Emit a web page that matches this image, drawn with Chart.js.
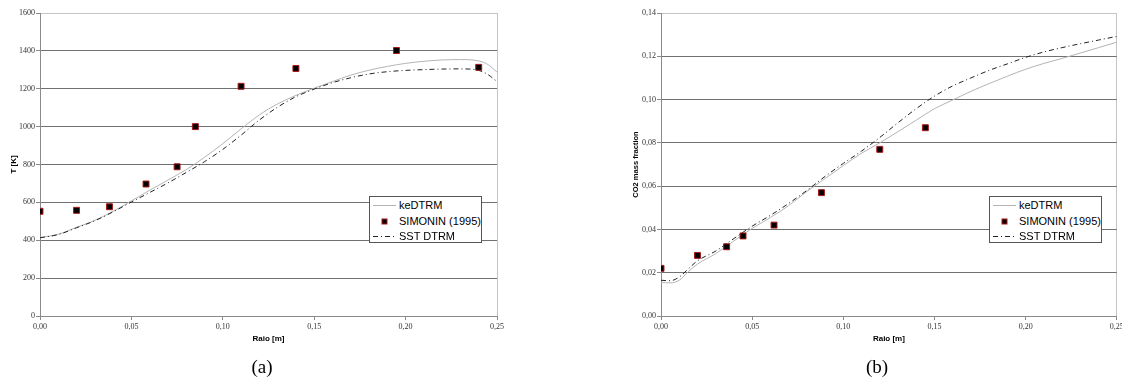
<!DOCTYPE html>
<html>
<head>
<meta charset="utf-8">
<script src="https://cdn.jsdelivr.net/npm/chart.js@4.4.1/dist/chart.umd.min.js"></script>
<style>
  body { margin: 0; background: #fff; width: 1122px; height: 381px; position: relative; overflow: hidden; }
  canvas { position: absolute; top: 0; }
  .legend { position: absolute; box-sizing: border-box; width: 113px; height: 47px; border: 1px solid #555; background: #fff;
            font: 11px "Liberation Sans", Arial, sans-serif; color: #000; }
  .legend .row { position: absolute; left: 0; width: 100%; height: 15px; line-height: 15px; white-space: nowrap; }
  .legend svg { position: absolute; left: 2px; top: 0; }
  .legend span { position: absolute; left: 29px; }
  .caption { position: absolute; top: 356px; width: 40px; text-align: center; font: 19px "Liberation Serif", "Times New Roman", serif; }
</style>
</head>
<body>
<canvas id="chartA" width="540" height="381" style="left:0px"></canvas>
<canvas id="chartB" width="522" height="381" style="left:600px"></canvas>
<div class="caption" style="left:242px">(a)</div>
<div class="caption" style="left:857px">(b)</div>
<div id="legendA" class="legend" style="left:369px; top:196px"></div>
<div id="legendB" class="legend" style="left:989px; top:196px"></div>
<script>
// ============================================
// Temperature / CO2 radial profiles - (a) and (b)
// ============================================

const seriesNames = ['keDTRM', 'SIMONIN (1995)', 'SST DTRM'];

// (a) Temperature
const radiusA = [0, 0.01, 0.02, 0.03, 0.04, 0.05, 0.06, 0.07, 0.08, 0.09, 0.10, 0.11, 0.12, 0.13,
                 0.14, 0.15, 0.16, 0.17, 0.18, 0.19, 0.20, 0.21, 0.22, 0.23, 0.24, 0.245, 0.25];
const keDtrmA = [414, 432, 468, 505, 553, 608, 664, 718, 773, 838, 910, 988, 1062, 1120,
                 1165, 1203, 1238, 1272, 1298, 1318, 1334, 1345, 1352, 1354, 1347, 1328, 1288];
const sstDtrmA = [413, 430, 466, 503, 550, 602, 652, 703, 758, 815, 880, 955, 1035, 1103,
                  1158, 1198, 1232, 1258, 1278, 1290, 1297, 1301, 1304, 1305, 1297, 1275, 1238];
const simoninRadiusA = [0, 0.02, 0.038, 0.058, 0.075, 0.085, 0.11, 0.14, 0.195, 0.24];
const simoninA = [553, 558, 577, 697, 788, 1000, 1213, 1307, 1402, 1313];

// (b) CO2 mass fraction
const radiusB = [0, 0.005, 0.01, 0.015, 0.02, 0.03, 0.04, 0.05, 0.06, 0.07, 0.08, 0.09, 0.10, 0.11,
                 0.12, 0.13, 0.14, 0.15, 0.16, 0.17, 0.18, 0.19, 0.20, 0.21, 0.22, 0.23, 0.24, 0.25];
const keDtrmB = [0.0155, 0.0153, 0.0165, 0.0205, 0.0240, 0.0288, 0.0347, 0.0405, 0.0455, 0.0510, 0.0575, 0.0635, 0.0695, 0.0752,
                 0.0800, 0.0852, 0.0905, 0.0958, 0.0998, 0.1038, 0.1074, 0.1108, 0.1140, 0.1167, 0.1190, 0.1215, 0.1240, 0.1265];
const sstDtrmB = [0.0165, 0.0163, 0.0180, 0.0218, 0.0255, 0.0300, 0.0358, 0.0415, 0.0465, 0.0520, 0.0580, 0.0645, 0.0705, 0.0762,
                  0.0825, 0.0893, 0.0958, 0.1016, 0.1063, 0.1100, 0.1135, 0.1165, 0.1195, 0.1220, 0.1240, 0.1258, 0.1275, 0.1292];
const simoninRadiusB = [0, 0.02, 0.036, 0.045, 0.062, 0.088, 0.12, 0.145];
const simoninB = [0.022, 0.028, 0.032, 0.037, 0.042, 0.057, 0.077, 0.087];

Chart.defaults.font.family = '"Liberation Serif", "Times New Roman", serif';
Chart.defaults.color = '#333';

function toPoints(xs, ys) {
    return xs.map((x, i) => ({ x: x, y: ys[i] }));
}

function comma(v, digits) {
    return Number(v).toFixed(digits).replace('.', ',');
}

// Build one of the two panels
function makePanel(id, cfg) {
    const ctx = document.getElementById(id);
    return new Chart(ctx, {
        type: 'scatter',
        data: {
            datasets: [
                {
                    label: seriesNames[0],
                    data: toPoints(cfg.radius, cfg.ke),
                    showLine: true,
                    borderColor: '#b4b4b4',
                    borderWidth: 1,
                    pointRadius: 0,
                    cubicInterpolationMode: 'monotone',
                    order: 2
                },
                {
                    label: seriesNames[1],
                    data: toPoints(cfg.simRadius, cfg.sim),
                    showLine: false,
                    pointStyle: 'rect',
                    pointRadius: 4.2,
                    pointBackgroundColor: '#000',
                    pointBorderColor: '#a81818',
                    pointBorderWidth: 1,
                    order: 0
                },
                {
                    label: seriesNames[2],
                    data: toPoints(cfg.radius, cfg.sst),
                    showLine: true,
                    borderColor: '#222',
                    borderWidth: 1,
                    borderDash: [5, 3, 1, 3],
                    pointRadius: 0,
                    cubicInterpolationMode: 'monotone',
                    order: 1
                }
            ]
        },
        options: {
            responsive: false,
            animation: false,
            events: [],
            layout: { padding: { top: 13, right: cfg.padRight, bottom: 0, left: 0 } },
            plugins: {
                legend: { display: false },
                tooltip: { enabled: false },
                title: { display: false }
            },
            scales: {
                x: {
                    type: 'linear',
                    min: 0,
                    max: 0.25,
                    afterFit: s => { s.height = 65; s.paddingLeft = 0; s.paddingRight = 0; },
                    border: { color: '#8a8a8a', width: 1 },
                    grid: {
                        color: c => (c.tick && c.tick.value > 0.249) ? '#c4c4c4' : 'rgba(0,0,0,0)',
                        tickColor: '#8a8a8a',
                        tickLength: 4
                    },
                    ticks: {
                        stepSize: 0.05,
                        maxRotation: 0,
                        autoSkip: false,
                        padding: 2,
                        font: { size: 8 },
                        callback: v => comma(v, 2)
                    },
                    title: {
                        display: true,
                        text: 'Raio [m]',
                        color: '#000',
                        padding: { top: 0, bottom: 37 },
                        font: { family: '"Liberation Sans", Arial, sans-serif', size: 8, weight: 'bold' }
                    }
                },
                y: {
                    min: 0,
                    max: cfg.yMax,
                    afterFit: s => { s.width = cfg.axisWidth; s.paddingTop = 0; s.paddingBottom = 0; },
                    border: { color: '#8a8a8a', width: 1 },
                    grid: {
                        color: c => (c.tick && c.tick.value >= cfg.yMax) ? '#c4c4c4' : '#707070',
                        tickColor: '#8a8a8a',
                        tickLength: 4
                    },
                    ticks: {
                        stepSize: cfg.yStep,
                        padding: 1,
                        font: { size: 8 },
                        callback: v => comma(v, cfg.yDigits)
                    },
                    title: {
                        display: true,
                        text: cfg.yTitle,
                        color: '#000',
                        padding: { top: cfg.yTitlePad, bottom: 0 },
                        font: { family: '"Liberation Sans", Arial, sans-serif', size: cfg.yTitleSize, weight: 'bold' }
                    }
                }
            }
        }
    });
}

// HTML legend box inside the plot
function fillLegend(id) {
    const box = document.getElementById(id);
    const samples = [
        '<line x1="1" y1="7.5" x2="24" y2="7.5" stroke="#b4b4b4" stroke-width="1"/>',
        '<rect x="10" y="5" width="5" height="5" fill="#000" stroke="#a81818" stroke-width="1"/>',
        '<line x1="1" y1="7.5" x2="24" y2="7.5" stroke="#222" stroke-width="1" stroke-dasharray="5,3,1,3"/>'
    ];
    const tops = [1, 17, 32];
    box.innerHTML = seriesNames.map((name, i) =>
        '<div class="row" style="top:' + tops[i] + 'px">' +
        '<svg width="26" height="15">' + samples[i] + '</svg>' +
        '<span>' + name + '</span></div>').join('');
}

makePanel('chartA', {
    radius: radiusA, ke: keDtrmA, sst: sstDtrmA, simRadius: simoninRadiusA, sim: simoninA,
    yMax: 1600, yStep: 200, yDigits: 0, yTitle: 'T [K]', yTitlePad: 9, yTitleSize: 8,
    axisWidth: 40, padRight: 43
});

makePanel('chartB', {
    radius: radiusB, ke: keDtrmB, sst: sstDtrmB, simRadius: simoninRadiusB, sim: simoninB,
    yMax: 0.14, yStep: 0.02, yDigits: 2, yTitle: 'CO2 mass fraction', yTitlePad: 31, yTitleSize: 7.5,
    axisWidth: 61, padRight: 5
});

fillLegend('legendA');
fillLegend('legendB');
</script>
</body>
</html>
